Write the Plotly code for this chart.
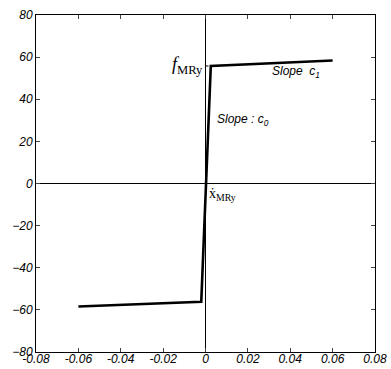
import plotly.graph_objects as go

velocity = [-0.06, -0.002, 0.0025, 0.06]
force = [-58.4, -56.2, 55.8, 58.4]

x_ticks = [-0.08, -0.06, -0.04, -0.02, 0, 0.02, 0.04, 0.06, 0.08]
x_tick_labels = ["-0.08", "-0.06", "-0.04", "-0.02", "0", "0.02", "0.04", "0.06", "0.08"]
y_ticks = [-80, -60, -40, -20, 0, 20, 40, 60, 80]

fig = go.Figure()
fig.add_trace(go.Scatter(x=velocity, y=force, mode="lines",
                         line=dict(color="black", width=2.6), showlegend=False))
# dotted guide at f_MRy
fig.add_trace(go.Scatter(x=[0, velocity[2]], y=[force[2], force[2]], mode="lines",
                         line=dict(color="black", width=1, dash="dot"), showlegend=False))

tickfont = dict(family="Liberation Sans, Arial", size=12, color="black", style="italic")
fig.update_layout(
    width=391, height=369,
    margin=dict(l=36, r=16, t=15, b=17),
    plot_bgcolor="white", paper_bgcolor="white",
    xaxis=dict(range=[-0.08, 0.08], tickvals=x_ticks, ticktext=x_tick_labels,
               ticks="inside", ticklen=4, mirror="ticks", showline=True,
               linecolor="black", linewidth=1, showgrid=False,
               zeroline=True, zerolinecolor="black", zerolinewidth=1,
               tickfont=tickfont, automargin=False, ticklabelstandoff=-4),
    yaxis=dict(range=[-80, 80], tickvals=y_ticks,
               ticks="inside", ticklen=4, mirror="ticks", showline=True,
               linecolor="black", linewidth=1, showgrid=False,
               zeroline=True, zerolinecolor="black", zerolinewidth=1,
               tickfont=tickfont, automargin=False),
    annotations=[
        dict(x=0, y=force[2], xref="x", yref="y", xanchor="right", yanchor="middle",
             text="<i>f</i><sub>MRy</sub>", showarrow=False, xshift=-1,
             font=dict(family="Liberation Serif, Times New Roman", size=18, color="black")),
        dict(x=0.0305, y=53, xref="x", yref="y", xanchor="left", yanchor="middle",
             text="<i>Slope  c<sub>1</sub></i>", showarrow=False,
             font=dict(family="Liberation Sans, Arial", size=12, color="black")),
        dict(x=0.0045, y=30, xref="x", yref="y", xanchor="left", yanchor="middle",
             text="<i>Slope : c<sub>0</sub></i>", showarrow=False,
             font=dict(family="Liberation Sans, Arial", size=12, color="black")),
        dict(x=0.0005, y=-5, xref="x", yref="y", xanchor="left", yanchor="middle",
             text="ẋ<sub>MRy</sub>", showarrow=False,
             font=dict(family="Liberation Serif, Times New Roman", size=14, color="black")),
    ],
)
fig.write_html("out.html", config={"displayModeBar": False},
               post_script="document.body.style.margin='0';document.body.style.overflow='hidden';")
